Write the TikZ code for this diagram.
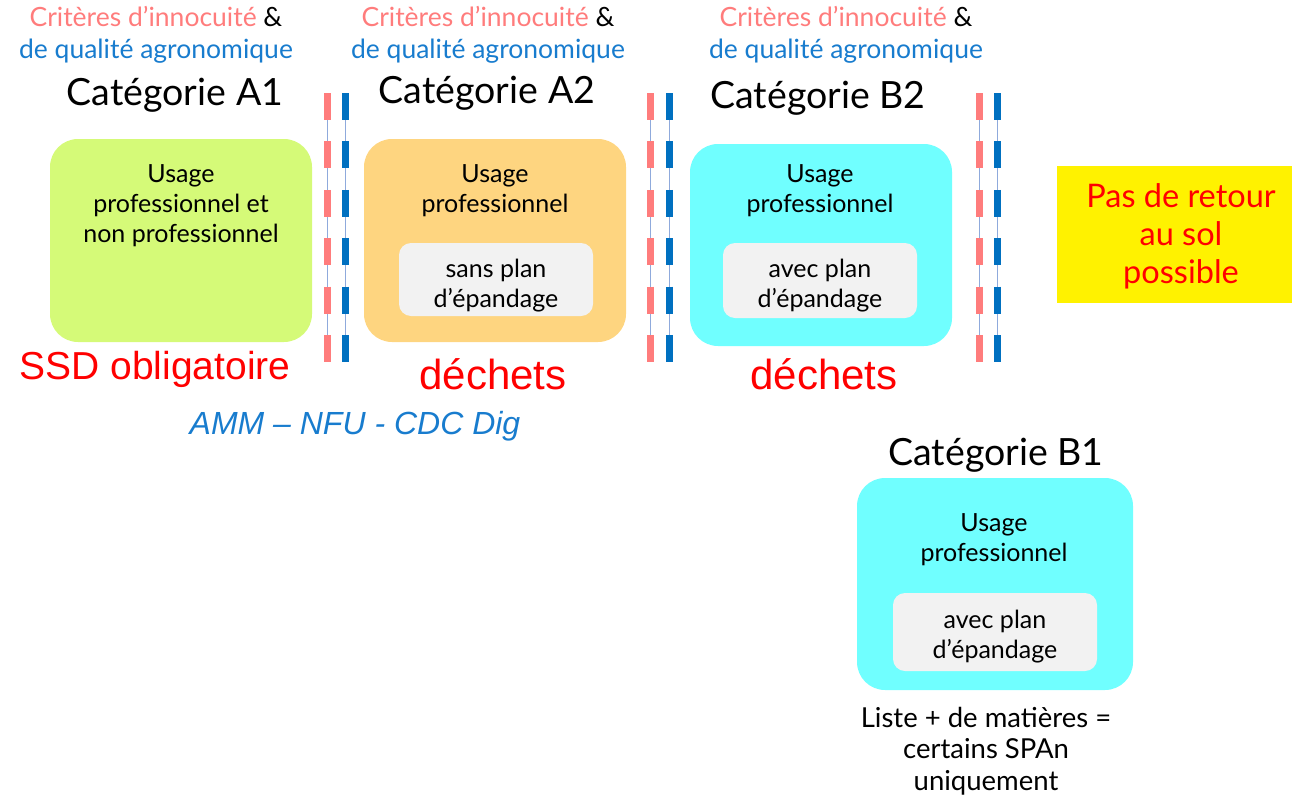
\documentclass[tikz,border=0pt]{standalone}
\usepackage{fontspec}
\setmainfont{Lato}
\newfontfamily\arialfont{Liberation Sans}

\definecolor{critred}{RGB}{255,124,124}
\definecolor{qualblue}{RGB}{24,124,206}
\definecolor{a1green}{RGB}{213,250,120}
\definecolor{a2orange}{RGB}{254,213,128}
\definecolor{bcyan}{RGB}{112,255,255}
\definecolor{innergrey}{RGB}{242,242,242}
\definecolor{barblue}{RGB}{0,112,192}
\definecolor{linkblue}{RGB}{143,170,220}
\definecolor{signred}{RGB}{255,0,0}

\tikzset{
  crit/.style={align=center, font=\fontsize{26.5}{32}\selectfont},
  cat/.style={font=\fontsize{37.5}{40}\selectfont},
  body/.style={align=center, font=\fontsize{25}{30}\selectfont},
  bigbox/.style={rounded corners=28pt, inner sep=0pt},
  innerbox/.style={fill=innergrey, rounded corners=12pt, inner sep=0pt},
  bigred/.style={text=signred, font=\arialfont\fontsize{39}{44}\selectfont},
  link/.style={linkblue, line width=1.6pt},
  redbar/.style={critred, line width=7pt, dash pattern=on 27pt off 21.4pt},
  bluebar/.style={barblue, line width=7pt, dash pattern=on 27pt off 21.4pt},
}

\begin{document}
\begin{tikzpicture}[x=1pt, y=-1pt]
  \useasboundingbox (0,0) rectangle (1292,803);

  % criteres en tete de colonne
  \node[crit] (critA1) at (156,35) {{\color{critred}Critères d’innocuité} \&\\{\color{qualblue}de qualité agronomique}};
  \node[crit] (critA2) at (488,35) {{\color{critred}Critères d’innocuité} \&\\{\color{qualblue}de qualité agronomique}};
  \node[crit] (critB2) at (846,35) {{\color{critred}Critères d’innocuité} \&\\{\color{qualblue}de qualité agronomique}};

  % categories
  \node[cat] (catA1) at (175,95) {Catégorie A1};
  \node[cat] (catA2) at (487,93) {Catégorie A2};
  \node[cat] (catB2) at (818,98) {Catégorie B2};
  \node[cat] (catB1) at (996,455) {Catégorie B1};

  % grandes boites
  \node[bigbox, fill=a1green, minimum width=262, minimum height=203] (boxA1) at (181,240.5) {};
  \node[bigbox, fill=a2orange, minimum width=262, minimum height=203] (boxA2) at (495,240.5) {};
  \node[bigbox, fill=bcyan, minimum width=262, minimum height=202] (boxB2) at (821,245) {};
  \node[bigbox, fill=bcyan, minimum width=276, minimum height=212] (boxB1) at (995,584) {};

  % boites grises
  \node[innerbox, minimum width=194, minimum height=73] (planA2) at (496,279.5) {};
  \node[innerbox, minimum width=194, minimum height=75] (planB2) at (820,280.5) {};
  \node[innerbox, minimum width=204, minimum height=78] (planB1) at (995,632) {};

  % textes des boites
  \node[body] (useA1) at (181,206) {Usage\\professionnel et\\non professionnel};
  \node[body] (useA2) at (495,191) {Usage\\professionnel};
  \node[body] (useB2) at (820,191) {Usage\\professionnel};
  \node[body] (useB1) at (994,540) {Usage\\professionnel};
  \node[body] (txtA2) at (496,286) {sans plan\\d’épandage};
  \node[body] (txtB2) at (820,286) {avec plan\\d’épandage};
  \node[body] (txtB1) at (995,637) {avec plan\\d’épandage};

  % barrieres
  \foreach \xr/\xb in {327.5/345.5, 650.5/669.5, 979.5/997.5} {
    \draw[link] (\xr,93) -- (\xr,362);
    \draw[link] (\xb,93) -- (\xb,362);
    \draw[redbar] (\xr,93) -- (\xr,362);
    \draw[bluebar] (\xb,93) -- (\xb,362);
  }

  % statuts
  \node[bigred] (ssd) at (155,369) {SSD obligatoire};
  \node[bigred, font=\arialfont\fontsize{42}{44}\selectfont] (dechA2) at (493,374) {déchets};
  \node[bigred, font=\arialfont\fontsize{42}{44}\selectfont] (dechB2) at (824,374) {déchets};
  \node[text=qualblue, font=\arialfont\itshape\fontsize{32}{34}\selectfont] (amm) at (355,426) {AMM – NFU - CDC Dig};

  % pas de retour au sol
  \node[fill=yellow, minimum width=235, minimum height=137, inner sep=0pt] (noret) at (1174.5,234.5) {};
  \node[align=center, text=signred, font=\fontsize{32.5}{38}\selectfont] (noretTxt) at (1181,236) {Pas de retour\\au sol\\possible};

  % liste
  \node[align=center, font=\fontsize{27.5}{31.5}\selectfont] (liste) at (986,751) {Liste + de matières =\\certains SPAn\\uniquement};
\end{tikzpicture}
\end{document}
